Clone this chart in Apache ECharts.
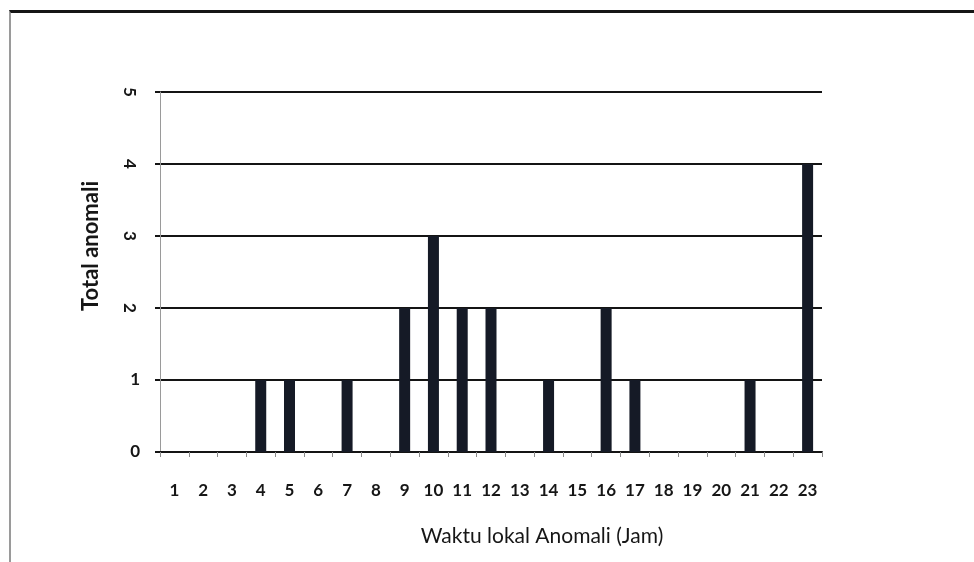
<!DOCTYPE html>
<html>
<head>
<meta charset="utf-8">
<script src="https://cdn.jsdelivr.net/npm/echarts@6/dist/echarts.min.js"></script>
<style>
  html, body { margin: 0; padding: 0; background: #fff; overflow: hidden; }
  #frame { position: absolute; left: 9px; top: 10px; width: 980px; height: 560px;
           border-top: 3px solid #161616; border-left: 2px solid #9a9a9a; }
  #chart { position: absolute; left: 0; top: 0; width: 974px; height: 562px; }
</style>
</head>
<body>
<div id="frame"></div>
<div id="chart"></div>
<script>
// Data
const categories = ['1','2','3','4','5','6','7','8','9','10','11','12','13','14','15','16','17','18','19','20','21','22','23'];
const totalAnomali = [0,0,0,1,1,0,1,0,2,3,2,2,0,1,0,2,1,0,0,0,1,0,4];
const yTicks = { min: 0, max: 5, interval: 1 };
const xTitle = 'Waktu lokal Anomali (Jam)';
const yTitle = 'Total anomali';

const font = 'Lato, "Open Sans", sans-serif';
const chart = echarts.init(document.getElementById('chart'), null, { renderer: 'canvas' });

chart.setOption({
  backgroundColor: 'transparent',
  animation: false,
  grid: { left: 160, right: 152, top: 92, bottom: 110, containLabel: false },
  xAxis: {
    type: 'category',
    data: categories,
    boundaryGap: true,
    name: xTitle,
    nameLocation: 'middle',
    nameGap: 74,
    nameTextStyle: { fontFamily: font, fontSize: 21, color: '#161616', padding: [0, 0, 0, 102] },
    axisLine: { show: true, lineStyle: { color: '#141414', width: 2 } },
    axisTick: { show: true, alignWithLabel: false, length: 5, lineStyle: { color: '#8a8a8a', width: 1 } },
    axisLabel: { interval: 0, margin: 30, fontFamily: font, fontSize: 17, fontWeight: 'bold', color: '#161616' },
    splitLine: { show: false }
  },
  yAxis: [
    {
      type: 'value',
      min: yTicks.min, max: yTicks.max, interval: yTicks.interval,
      name: yTitle,
      nameLocation: 'middle',
      nameGap: 58,
      nameTextStyle: { fontFamily: font, fontSize: 22, fontWeight: 'bold', color: '#161616', padding: [0, 0, 0, 52] },
      axisLine: { show: true, lineStyle: { color: '#9a9a9a', width: 1 } },
      axisTick: { show: true, length: 5, lineStyle: { color: '#141414', width: 2 } },
      axisLabel: {
        margin: 20, fontFamily: font, fontSize: 17, fontWeight: 'bold', color: '#161616',
        formatter: v => (v <= 1 ? String(v) : '')
      },
      splitLine: { show: true, lineStyle: { color: '#141414', width: 2 } }
    },
    {
      type: 'value',
      position: 'left',
      min: yTicks.min, max: yTicks.max, interval: yTicks.interval,
      axisLine: { show: false },
      axisTick: { show: false },
      splitLine: { show: false },
      axisLabel: {
        margin: 22, rotate: -90, fontFamily: font, fontSize: 17, fontWeight: 'bold', color: '#161616',
        formatter: v => (v >= 2 ? String(v) : '')
      }
    }
  ],
  series: [{
    type: 'bar',
    data: totalAnomali,
    barWidth: 11,
    itemStyle: { color: '#151a26' }
  }]
});
</script>
</body>
</html>
